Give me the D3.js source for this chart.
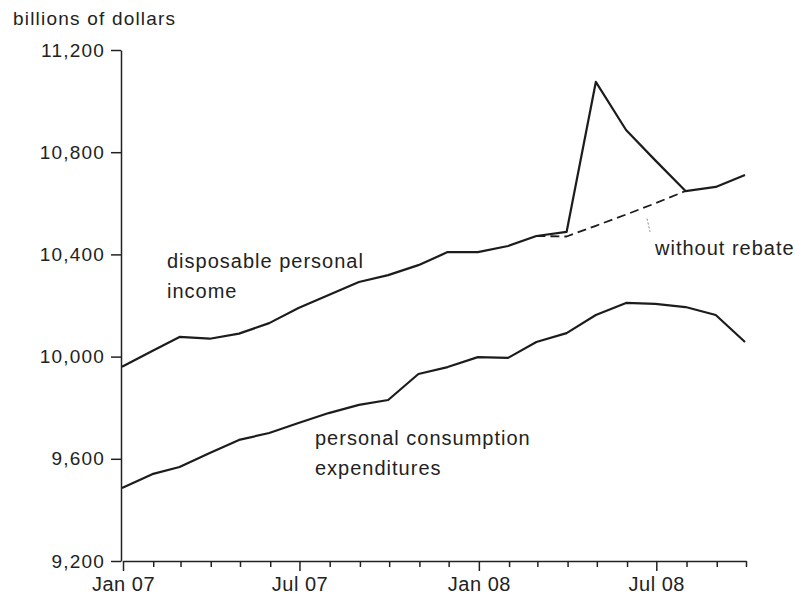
<!DOCTYPE html>
<html>
<head>
<meta charset="utf-8">
<script src="https://cdn.jsdelivr.net/npm/d3@7"></script>
<style>
  body { margin: 0; background: #fff; }
  text { font-family: Arial, "Liberation Sans", sans-serif; fill: #222; }
</style>
</head>
<body>
<svg id="chart" width="795" height="602"></svg>
<script>
const svg = d3.select('#chart');

// monthly observations, Jan 07 .. Oct 08
const months = ['2007-01', '2007-02', '2007-03', '2007-04', '2007-05', '2007-06',
  '2007-07', '2007-08', '2007-09', '2007-10', '2007-11', '2007-12',
  '2008-01', '2008-02', '2008-03', '2008-04', '2008-05', '2008-06',
  '2008-07', '2008-08', '2008-09', '2008-10'];

// disposable personal income (billions of dollars)
const income = [9960, 10022, 10077, 10070, 10090, 10131, 10190, 10241, 10292, 10319,
  10358, 10409, 10409, 10433, 10472, 10488, 11075, 10887, 10768, 10648, 10664, 10711];

// income without the rebate, Mar 08 .. Aug 08
const noRebateMonths = ['2008-03', '2008-04', '2008-05', '2008-06', '2008-07', '2008-08'];
const noRebate = [10472, 10470, 10512, 10556, 10600, 10648];

// personal consumption expenditures
const consumption = [9486, 9540, 9568, 9623, 9674, 9701, 9740, 9779, 9811, 9830,
  9932, 9959, 9998, 9995, 10057, 10092, 10163, 10210, 10206, 10194, 10163, 10057];

const yTicks = [9200, 9600, 10000, 10400, 10800, 11200];
const yTitle = 'billions of dollars';

const parseMonth = d3.timeParse('%Y-%m');

const render = () => {
  const x = d3.scaleTime()
    .domain([parseMonth('2007-01'), parseMonth('2008-10')])
    .range([122, 745]);
  const y = d3.scaleLinear()
    .domain([9200, 11200])
    .range([561, 50]);

  // y axis
  const yAxis = svg.append('g')
    .attr('transform', 'translate(121,0)')
    .call(d3.axisLeft(y).tickValues(yTicks).tickFormat(d3.format(','))
      .tickSize(10).tickPadding(6).tickSizeOuter(0));
  yAxis.selectAll('text')
    .attr('font-size', '19px')
    .attr('letter-spacing', '1.2px')
    .attr('fill', '#222');

  // x axis: monthly ticks, labels on Jan and Jul
  const monthTicks = d3.timeMonth.range(parseMonth('2007-01'), d3.timeMonth.offset(parseMonth('2008-10'), 1));
  const xAxis = svg.append('g')
    .attr('transform', 'translate(1,561)')
    .call(d3.axisBottom(x).tickValues(monthTicks)
      .tickFormat(d => (d.getMonth() % 6 === 0 ? d3.timeFormat('%b %y')(d) : ''))
      .tickSize(10).tickPadding(6).tickSizeOuter(0));
  xAxis.selectAll('.tick line')
    .attr('y2', d => (d.getMonth() % 6 === 0 ? 10 : 6));
  xAxis.selectAll('text')
    .attr('font-size', '20px')
    .attr('letter-spacing', '0.5px')
    .attr('fill', '#222');

  svg.selectAll('.domain, .tick line')
    .attr('stroke', '#222')
    .attr('stroke-width', 1.5);

  svg.append('text')
    .attr('x', 13).attr('y', 25)
    .attr('font-size', '19px')
    .attr('letter-spacing', '1.2px')
    .text(yTitle);

  const line = d3.line()
    .x(d => x(parseMonth(d[0])))
    .y(d => y(d[1]));

  const series = [
    { values: d3.zip(months, income), dash: null },
    { values: d3.zip(months, consumption), dash: null },
    { values: d3.zip(noRebateMonths, noRebate), dash: '9,5' }
  ];

  svg.selectAll('path.series').data(series)
    .enter().append('path')
    .attr('class', 'series')
    .attr('d', d => line(d.values))
    .attr('fill', 'none')
    .attr('stroke', '#1c1c1c')
    .attr('stroke-width', d => (d.dash ? 1.8 : 2.2))
    .attr('stroke-dasharray', d => d.dash)
    .attr('stroke-linejoin', 'round');

  // little leader from the label up to the dashed line
  const lx = x(parseMonth('2008-06')) + 21;
  svg.append('line')
    .attr('x1', lx).attr('x2', lx + 3)
    .attr('y1', y(10540)).attr('y2', y(10488))
    .attr('stroke', '#888')
    .attr('stroke-width', 1)
    .attr('stroke-dasharray', '2,2');

  // annotations
  const notes = [
    { lines: ['disposable personal', 'income'], x: 167, y: 268 },
    { lines: ['personal consumption', 'expenditures'], x: 315, y: 445 },
    { lines: ['without rebate'], x: 655, y: 255 }
  ];
  notes.forEach(n => {
    const t = svg.append('text')
      .attr('x', n.x).attr('y', n.y)
      .attr('font-size', '20px')
      .attr('letter-spacing', '1px');
    n.lines.forEach((s, i) => {
      t.append('tspan').attr('x', n.x).attr('dy', i === 0 ? 0 : 30).text(s);
    });
  });
};

render();
</script>
</body>
</html>
